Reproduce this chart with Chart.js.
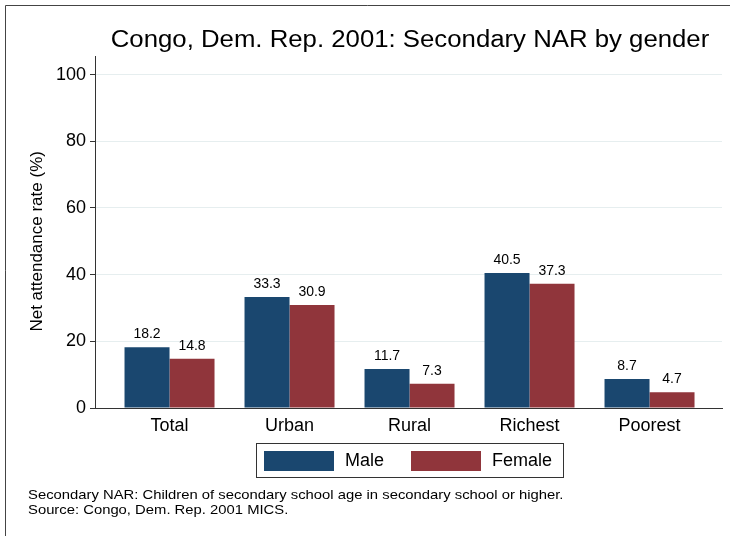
<!DOCTYPE html>
<html>
<head>
<meta charset="utf-8">
<script src="https://cdn.jsdelivr.net/npm/chart.js@4"></script>
<style>
  html, body { margin: 0; padding: 0; background: #fff; }
  #wrap { width: 730px; height: 536px; }
</style>
</head>
<body>
<div id="wrap"><canvas id="chart" width="730" height="536"></canvas></div>
<script>
const categories = ["Total", "Urban", "Rural", "Richest", "Poorest"];
const male = [18.2, 33.3, 11.7, 40.5, 8.7];
const female = [14.8, 30.9, 7.3, 37.3, 4.7];
const yTicks = [0, 20, 40, 60, 80, 100];
const seriesNames = ["Male", "Female"];

const FONT = "'Liberation Sans', Arial, Helvetica, sans-serif";
const NAVY = "#1a476f";
const MAROON = "#90353b";

// draws text a little wider, like the original renderer
function wideText(ctx, text, x, y, sx) {
  ctx.save();
  ctx.translate(x, y);
  ctx.scale(sx, 1);
  ctx.fillText(text, 0, 0);
  ctx.restore();
}

// text, legend box, frame and value labels
const decorations = {
  id: "decorations",
  beforeDraw(chart) {
    const ctx = chart.ctx;
    ctx.save();
    ctx.fillStyle = "#fff";
    ctx.fillRect(0, 0, chart.width, chart.height);
    ctx.strokeStyle = "#444";
    ctx.lineWidth = 1;
    ctx.beginPath();
    ctx.moveTo(5.5, chart.height);
    ctx.lineTo(5.5, 5.5);
    ctx.lineTo(chart.width, 5.5);
    ctx.stroke();
    ctx.restore();
  },
  afterDraw(chart) {
    const ctx = chart.ctx;
    ctx.save();
    ctx.fillStyle = "#000";

    // title
    ctx.font = "23px " + FONT;
    ctx.textAlign = "center";
    ctx.textBaseline = "alphabetic";
    wideText(ctx, "Congo, Dem. Rep. 2001: Secondary NAR by gender", 410, 47, 1.12);

    // y axis title
    ctx.save();
    ctx.translate(37, chart.scales.y.getPixelForValue(50));
    ctx.rotate(-Math.PI / 2);
    ctx.font = "17px " + FONT;
    ctx.textBaseline = "middle";
    ctx.fillText("Net attendance rate (%)", 0, 0);
    ctx.restore();

    // value labels
    ctx.font = "14px " + FONT;
    ctx.textBaseline = "alphabetic";
    chart.data.datasets.forEach((ds, di) => {
      chart.getDatasetMeta(di).data.forEach((bar, i) => {
        ctx.fillText(ds.data[i].y.toFixed(1), bar.x, bar.y - 9);
      });
    });

    // legend
    ctx.strokeStyle = "#333";
    ctx.lineWidth = 1;
    ctx.strokeRect(256.5, 443.5, 307, 34);
    ctx.font = "18px " + FONT;
    ctx.textAlign = "left";
    ctx.textBaseline = "middle";
    const swatchX = [264, 411];
    chart.data.datasets.forEach((ds, di) => {
      ctx.fillStyle = ds.backgroundColor;
      ctx.fillRect(swatchX[di], 451, 70, 20);
      ctx.fillStyle = "#000";
      ctx.fillText(ds.label, swatchX[di] + 81, 461.5);
    });

    // notes
    ctx.font = "13px " + FONT;
    ctx.textBaseline = "alphabetic";
    wideText(ctx, "Secondary NAR: Children of secondary school age in secondary school or higher.", 28, 499, 1.14);
    wideText(ctx, "Source: Congo, Dem. Rep. 2001 MICS.", 28, 514, 1.14);
    ctx.restore();
  }
};

new Chart(document.getElementById("chart"), {
  type: "bar",
  data: {
    datasets: [
      {
        label: seriesNames[0],
        data: male.map((v, i) => ({ x: i, y: v })),
        backgroundColor: NAVY,
        categoryPercentage: 0.75,
        barPercentage: 1.0
      },
      {
        label: seriesNames[1],
        data: female.map((v, i) => ({ x: i, y: v })),
        backgroundColor: MAROON,
        categoryPercentage: 0.75,
        barPercentage: 1.0
      }
    ]
  },
  options: {
    responsive: false,
    animation: false,
    layout: { padding: { left: 0, top: 56, right: 8, bottom: 98 } },
    plugins: {
      legend: { display: false },
      title: { display: false },
      tooltip: { enabled: false }
    },
    scales: {
      x: {
        type: "linear",
        min: -0.621,
        max: 4.604,
        offset: false,
        grid: { display: false, drawTicks: false, tickLength: 0, offset: false },
        border: { color: "#333", width: 1 },
        afterBuildTicks: (scale) => {
          scale.ticks = categories.map((c, i) => ({ value: i }));
        },
        afterFit: (scale) => { scale.height = 30; },
        ticks: {
          autoSkip: false,
          maxRotation: 0,
          padding: 7,
          color: "#000",
          font: { family: FONT, size: 18 },
          callback: (v) => categories[v]
        }
      },
      y: {
        min: 0,
        max: 105.6,
        grid: { color: (c) => c.tick.value === 0 ? "rgba(0,0,0,0)" : "#e6eeef", tickColor: "#333", tickLength: 5 },
        border: { color: "#333", width: 1 },
        afterBuildTicks: (scale) => {
          scale.ticks = yTicks.map((v) => ({ value: v }));
        },
        afterFit: (scale) => { scale.width = 95; },
        ticks: {
          padding: 4,
          color: "#000",
          font: { family: FONT, size: 18 }
        }
      }
    }
  },
  plugins: [decorations]
});
</script>
</body>
</html>
